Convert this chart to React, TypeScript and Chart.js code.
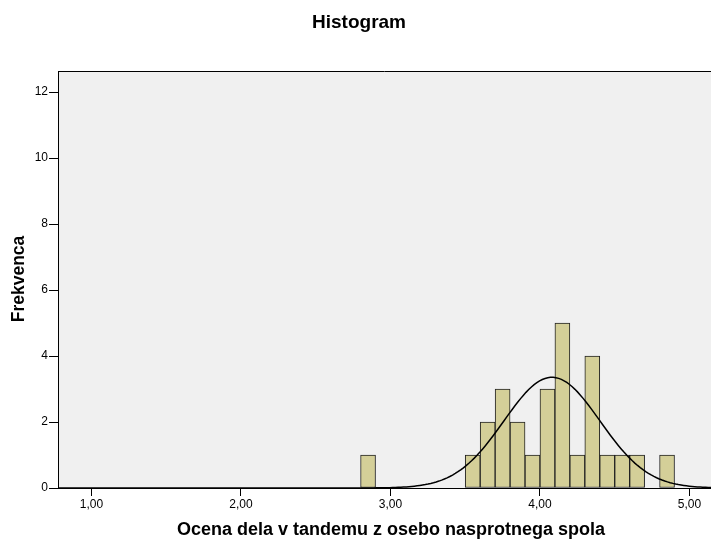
import React, { useEffect, useRef } from "react";
import { Chart, registerables } from "chart.js";

Chart.register(...registerables);

// Histogram bins (bin centre, width 0.1) and their frequencies
const BIN_CENTERS = [2.85, 3.55, 3.65, 3.75, 3.85, 3.95, 4.05, 4.15, 4.25, 4.35, 4.45, 4.55, 4.65, 4.85];
const BIN_COUNTS = [1, 1, 2, 3, 2, 1, 3, 5, 1, 4, 1, 1, 1, 1];
const BIN_WIDTH = 0.1;

// Fitted normal curve parameters (as shown by the curve)
const N_TOTAL = 27;
const MEAN = 4.08;
const STD_DEV = 0.321;

const X_TICKS = [1, 2, 3, 4, 5];
const Y_TICKS = [0, 2, 4, 6, 8, 10, 12];

const TITLE = "Histogram";
const X_TITLE = "Ocena dela v tandemu z osebo nasprotnega spola";
const Y_TITLE = "Frekvenca";

const X_MIN = 0.776;
const X_MAX = 5.144;
const Y_MAX = 12.64;

const FONT = "'Liberation Sans', Arial, sans-serif";

function normalCurve() {
  const pts: { x: number; y: number }[] = [];
  const steps = 240;
  for (let i = 0; i <= steps; i++) {
    const x = X_MIN + ((X_MAX - X_MIN) * i) / steps;
    const z = (x - MEAN) / STD_DEV;
    const y = (N_TOTAL * BIN_WIDTH * Math.exp(-0.5 * z * z)) / (STD_DEV * Math.sqrt(2 * Math.PI));
    pts.push({ x, y });
  }
  return pts;
}

const decor = {
  id: "decor",
  beforeDraw(chart: any) {
    const { ctx, chartArea: a } = chart;
    ctx.save();
    ctx.fillStyle = "#F0F0F0";
    ctx.fillRect(a.left, a.top, a.right - a.left, a.bottom - a.top);
    ctx.restore();
  },
  afterDraw(chart: any) {
    const { ctx, chartArea: a } = chart;
    ctx.save();
    ctx.strokeStyle = "#000";
    ctx.lineWidth = 1;
    ctx.beginPath();
    ctx.moveTo(a.left, a.top + 0.5);
    ctx.lineTo(a.right, a.top + 0.5);
    ctx.stroke();
    ctx.fillStyle = "#000";
    ctx.textAlign = "center";
    ctx.textBaseline = "middle";
    ctx.font = `bold 19px ${FONT}`;
    ctx.fillText(TITLE, 359, 23);
    ctx.font = `bold 18px ${FONT}`;
    ctx.fillText(X_TITLE, 391, 530);
    ctx.translate(19, 279);
    ctx.rotate(-Math.PI / 2);
    ctx.font = `bold 17.5px ${FONT}`;
    ctx.fillText(Y_TITLE, 0, 0);
    ctx.restore();
  },
};

export default function App() {
  const ref = useRef<HTMLCanvasElement | null>(null);
  useEffect(() => {
    if (!ref.current) return;
    const chart = new Chart(ref.current, {
      type: "bar",
      data: {
        datasets: [
          {
            type: "line",
            data: normalCurve(),
            borderColor: "#000",
            borderWidth: 1.5,
            pointRadius: 0,
            fill: false,
            tension: 0,
            order: 0,
          } as any,
          {
            type: "bar",
            data: BIN_CENTERS.map((x, i) => ({ x, y: BIN_COUNTS[i] })),
            backgroundColor: "#D4CF98",
            borderColor: "#222222",
            borderWidth: 1,
            borderSkipped: false,
            barPercentage: 1,
            categoryPercentage: 1,
            order: 1,
          } as any,
        ],
      },
      options: {
        responsive: false,
        animation: false,
        layout: { padding: { top: 71, left: 0, right: 0, bottom: 0 } },
        plugins: { legend: { display: false }, title: { display: false }, tooltip: { enabled: false } },
        scales: {
          x: {
            type: "linear",
            min: X_MIN,
            max: X_MAX,
            offset: false,
            afterFit: (s: any) => {
              s.height = 52;
            },
            afterBuildTicks: (s: any) => {
              s.ticks = X_TICKS.map((v) => ({ value: v }));
            },
            grid: { offset: false, drawOnChartArea: false, drawTicks: true, tickLength: 8, tickColor: "#000" },
            border: { display: true, color: "#000", width: 1 },
            ticks: {
              color: "#000",
              font: { family: FONT, size: 12 },
              padding: 1,
              maxRotation: 0,
              autoSkip: false,
              callback: (v: any) => Number(v).toFixed(2).replace(".", ","),
            },
          },
          y: {
            type: "linear",
            min: 0,
            max: Y_MAX,
            afterFit: (s: any) => {
              s.width = 58;
            },
            afterBuildTicks: (s: any) => {
              s.ticks = Y_TICKS.map((v) => ({ value: v }));
            },
            grid: { drawOnChartArea: false, drawTicks: true, tickLength: 9, tickColor: "#000" },
            border: { display: true, color: "#000", width: 1 },
            ticks: {
              color: "#000",
              font: { family: FONT, size: 12 },
              padding: 1,
              autoSkip: false,
              callback: (v: any) => String(v),
            },
          },
        },
      },
      plugins: [decor],
    });
    return () => chart.destroy();
  }, []);
  return (
    <div style={{ position: "fixed", left: 0, top: 0, width: 711, height: 540, background: "#fff" }}>
      <canvas ref={ref} width={711} height={540} />
    </div>
  );
}
